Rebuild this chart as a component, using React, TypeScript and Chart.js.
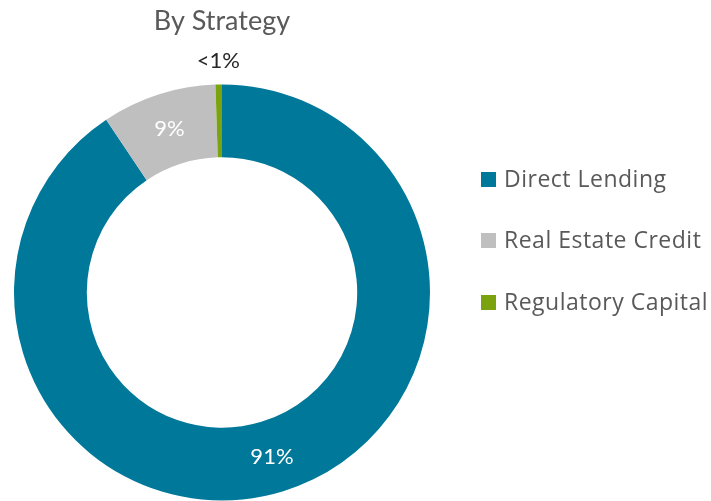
import React, { useEffect, useRef } from "react";
import { Chart, registerables } from "chart.js";

Chart.register(...registerables);

const categories = ["Direct Lending", "Real Estate Credit", "Regulatory Capital"];
const values = [90.6, 8.9, 0.5];
const colors = ["#00789A", "#BFBFBF", "#7AA30F"];
const title = "By Strategy";

const FONT = "Lato";
const LEGEND_FONT = "'Open Sans'";

const overlayPlugin = {
  id: "overlay",
  afterDraw(chart: any) {
    const ctx = chart.ctx;
    const meta = chart.getDatasetMeta(0);
    const ds = chart.data.datasets[0];
    const first = meta.data[0];
    const cx = first.x;
    const outer = first.outerRadius;
    ctx.save();
    // title
    ctx.fillStyle = "#595959";
    ctx.font = `27px ${FONT}`;
    ctx.textAlign = "center";
    ctx.textBaseline = "alphabetic";
    ctx.fillText(title, cx, 30);
    // slice labels
    meta.data.forEach((arc: any, i: number) => {
      const v = ds.data[i];
      const mid = (arc.startAngle + arc.endAngle) / 2;
      let r = (arc.innerRadius + arc.outerRadius) / 2;
      let text = Math.round(v) + "%";
      let color = "#FFFFFF";
      if (v < 1) {
        text = "<1%";
        r = arc.outerRadius + 24;
        color = "#262626";
      }
      ctx.fillStyle = color;
      ctx.font = `22px ${FONT}`;
      ctx.textAlign = "center";
      ctx.textBaseline = "middle";
      ctx.fillText(text, arc.x + r * Math.cos(mid), arc.y + r * Math.sin(mid));
    });
    // legend
    const lx = cx + outer + 51;
    const ys = [180, 241, 303];
    chart.data.labels.forEach((lab: string, i: number) => {
      const y = ys[i];
      ctx.fillStyle = ds.backgroundColor[i];
      ctx.fillRect(lx, y - 8, 15, 15);
      ctx.fillStyle = "#595959";
      ctx.font = `23px ${LEGEND_FONT}`;
      (ctx as any).letterSpacing = "0.5px";
      ctx.textAlign = "left";
      ctx.textBaseline = "middle";
      ctx.fillText(lab, lx + 23, y);
      (ctx as any).letterSpacing = "0px";
    });
    ctx.restore();
  },
};

export default function App() {
  const ref = useRef<HTMLCanvasElement>(null);
  useEffect(() => {
    document.body.style.margin = "0";
    const chart = new Chart(ref.current!, {
      type: "doughnut",
      data: {
        labels: categories,
        datasets: [
          {
            data: values,
            backgroundColor: colors,
            borderWidth: 0,
          },
        ],
      },
      options: {
        responsive: false,
        animation: false,
        cutout: "65%",
        layout: { padding: { top: 84, bottom: 0, left: 14, right: 281 } },
        plugins: {
          legend: { display: false },
          tooltip: { enabled: false },
        },
      },
      plugins: [overlayPlugin],
    });
    return () => chart.destroy();
  }, []);
  return (
    <div style={{ width: 711, height: 501, background: "#fff" }}>
      <canvas ref={ref} width={711} height={501} />
    </div>
  );
}
